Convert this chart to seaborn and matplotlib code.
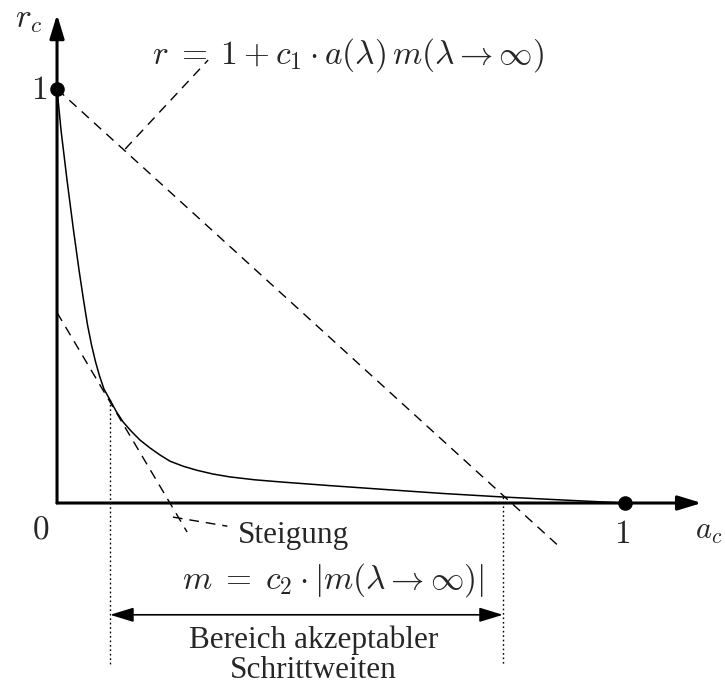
import matplotlib
matplotlib.use("Agg")
import matplotlib.pyplot as plt
import seaborn as sns
import numpy as np

# curve r_c(a_c)
curve_a = [0.0, 0.0070, 0.0176, 0.0290, 0.0387, 0.0467, 0.0537, 0.0607, 0.0678,
           0.0748, 0.0827, 0.0933, 0.1039, 0.1162, 0.1303, 0.1461, 0.1637,
           0.1813, 0.1989, 0.2218, 0.2465, 0.2746, 0.3046, 0.3486, 0.3926,
           0.4806, 0.5739, 0.6796, 0.7852, 0.8944, 1.0]
curve_r = [1.0, 0.901, 0.780, 0.659, 0.563, 0.490, 0.430, 0.382, 0.341,
           0.307, 0.275, 0.249, 0.222, 0.196, 0.174, 0.152, 0.133,
           0.116, 0.101, 0.089, 0.079, 0.070, 0.063, 0.056, 0.051,
           0.042, 0.033, 0.023, 0.0145, 0.007, 0.0]

# dashed straight lines (start / end points)
line1_a = [0.0, 0.88]
line1_r = [1.0, -0.10]
tangent_a = [0.0, 0.229]
tangent_r = [0.46, -0.07]

# leaders from labels to the lines
leader1_a = [0.12, 0.266]
leader1_r = [0.855, 1.07]
leader2_a = [0.204, 0.30]
leader2_r = [-0.034, -0.056]

# acceptable step range
range_lo = 0.0933
range_hi = 0.785
range_lo_r = 0.249
range_hi_r = 0.0145
range_bottom = -0.39
range_arrow_r = -0.27

# end points marked with dots
dots_a = [0.0, 1.0]
dots_r = [1.0, 0.0]

sns.set_style("white")
plt.rcParams["font.family"] = ["Liberation Serif", "DejaVu Serif"]
plt.rcParams["mathtext.fontset"] = "cm"

fig = plt.figure(figsize=(7.25, 6.86), dpi=100)
ax = fig.add_axes([0, 0, 1, 1])
ax.set_xlim(-0.1004, 1.176)
ax.set_ylim(-0.442, 1.215)
ax.axis("off")

# axes with arrows
head = "-|>,head_length=0.72,head_width=0.22"
ax.annotate("", xy=(1.135, 0), xytext=(0, 0),
            arrowprops=dict(arrowstyle=head, lw=2.2, color="black",
                            mutation_scale=20, shrinkA=0, shrinkB=0))
ax.annotate("", xy=(0, 1.18), xytext=(0, 0),
            arrowprops=dict(arrowstyle=head, lw=2.2, color="black",
                            mutation_scale=20, shrinkA=0, shrinkB=0))

sns.lineplot(x=curve_a, y=curve_r, ax=ax, color="black", lw=1.1, sort=False)

dash = (0, (7, 5))
ax.plot(line1_a, line1_r, color="black", lw=1, linestyle=dash)
ax.plot(tangent_a, tangent_r, color="black", lw=1, linestyle=dash)
ax.plot(leader1_a, leader1_r, color="black", lw=1, linestyle=dash)
ax.plot(leader2_a, leader2_r, color="black", lw=1, linestyle=dash)

dot = (0, (1.2, 2))
ax.plot([range_lo, range_lo], [range_lo_r, range_bottom], color="black", lw=1, linestyle=dot)
ax.plot([range_hi, range_hi], [range_hi_r, range_bottom], color="black", lw=1, linestyle=dot)
ax.annotate("", xy=(range_hi, range_arrow_r), xytext=(range_lo, range_arrow_r),
            arrowprops=dict(arrowstyle="<|-|>,head_length=0.72,head_width=0.22",
                            lw=1.2, color="black", mutation_scale=20,
                            shrinkA=0, shrinkB=0))

sns.scatterplot(x=dots_a, y=dots_r, ax=ax, color="black", s=110, zorder=5,
                edgecolor="black", linewidth=0)

fs = 22.5
ms = 24
ax.text(-0.051, 1.167, r"$r_c$", fontsize=ms, ha="center", va="center")
ax.text(-0.032, 0.995, r"$1$", fontsize=ms, ha="center", va="center")
ax.text(-0.028, -0.065, r"$0$", fontsize=ms, ha="center", va="center")
ax.text(0.995, -0.077, r"$1$", fontsize=ms, ha="center", va="center")
ax.text(1.172, -0.07, r"$a_c$", fontsize=22, ha="right", va="center")
ax.text(0.512, 1.082, r"$r\;=\;1 + c_1 \cdot a(\lambda)\, m(\lambda \to \infty)$",
        fontsize=ms, ha="center", va="center")
ax.text(0.319, -0.0966, "Steigung", fontsize=fs, ha="left", va="baseline")
ax.text(0.486, -0.186, r"$m\;=\;c_2 \cdot |m(\lambda \to \infty)|$",
        fontsize=ms, ha="center", va="center")
ax.text(0.451, -0.350, "Bereich akzeptabler", fontsize=fs, ha="center", va="baseline")
ax.text(0.451, -0.422, "Schrittweiten", fontsize=fs, ha="center", va="baseline")

fig.savefig("out.png", dpi=100)
